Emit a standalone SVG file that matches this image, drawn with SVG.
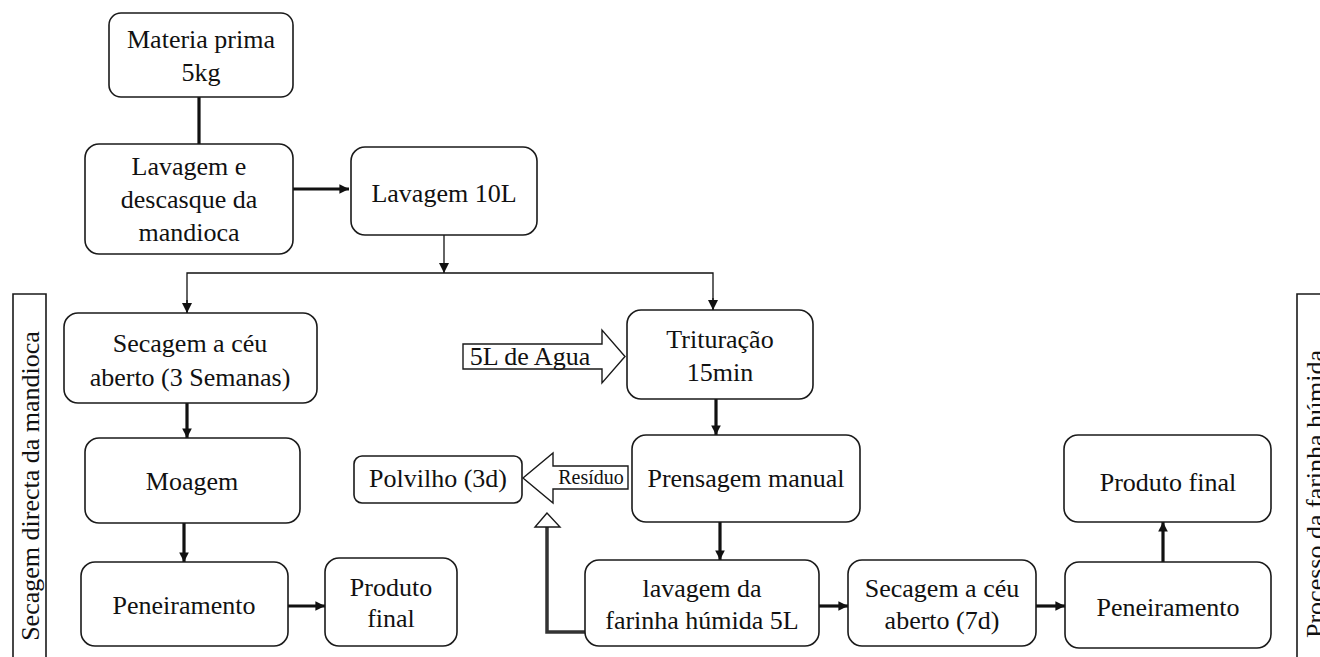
<svg xmlns="http://www.w3.org/2000/svg" width="1320" height="657" viewBox="0 0 1320 657" font-family="'Liberation Serif', 'DejaVu Serif', serif">
<style>
.box{fill:#fff;stroke:#1a1a1a;stroke-width:1.6}
text{font-family:'Liberation Serif','DejaVu Serif',serif}
.t{font-size:26px;fill:#111;text-anchor:middle}
.s{font-size:20px;fill:#111;text-anchor:middle}
.thin{fill:none;stroke:#111;stroke-width:1.3}
.thick{fill:none;stroke:#111;stroke-width:3.2}
.blk{fill:#fff;stroke:#1a1a1a;stroke-width:1.4}
</style>
<defs>
<marker id="ah" viewBox="0 0 10 10" refX="10" refY="5" markerWidth="10" markerHeight="10" markerUnits="userSpaceOnUse" orient="auto">
<path d="M0,0 L10,5 L0,10 z" fill="#111"/>
</marker>
<marker id="ahs" viewBox="0 0 10 10" refX="10" refY="5" markerWidth="3" markerHeight="3" orient="auto">
<path d="M0,0 L10,5 L0,10 z" fill="#111"/>
</marker>
</defs>
<rect width="1320" height="657" fill="#fff"/>

<g id="label-left">
<path d="M13,660 L13,294 L46,294 L46,660" class="box" fill="none"/>
<text class="t" transform="translate(39,486) rotate(-90)">Secagem directa da mandioca</text>
</g>
<g id="label-right">
<path d="M1297,660 L1297,294 L1325,294" class="box" fill="none"/>
<text class="t" style="text-anchor:start" transform="translate(1324,638) rotate(-90)">Processo da farinha húmida</text>
</g>

<g id="connectors">
<line class="thick" x1="199" y1="97" x2="199" y2="144"/>
<line class="thick" x1="293" y1="189" x2="349" y2="189" marker-end="url(#ahs)"/>
<line class="thin" x1="444" y1="235" x2="444" y2="273" marker-end="url(#ah)"/>
<polyline class="thin" points="187,313 187,273 713,273 713,310"/>
<line class="thin" x1="187" y1="300" x2="187" y2="313" marker-end="url(#ah)"/>
<line class="thin" x1="713" y1="298" x2="713" y2="310" marker-end="url(#ah)"/>
<line class="thick" x1="187" y1="403" x2="187" y2="438" marker-end="url(#ahs)"/>
<line class="thick" x1="184" y1="523" x2="184" y2="562" marker-end="url(#ahs)"/>
<line class="thick" x1="288" y1="606" x2="325" y2="606" marker-end="url(#ahs)"/>
<line class="thick" x1="716" y1="399" x2="716" y2="435" marker-end="url(#ahs)"/>
<line class="thick" x1="720" y1="522" x2="720" y2="560" marker-end="url(#ahs)"/>
<line class="thick" x1="819" y1="606" x2="848" y2="606" marker-end="url(#ahs)"/>
<line class="thick" x1="1036" y1="606" x2="1065" y2="606" marker-end="url(#ahs)"/>
<line class="thick" x1="1163" y1="562" x2="1163" y2="522" marker-end="url(#ahs)"/>
<polyline points="585,632 547,632 547,527" fill="none" stroke="#333" stroke-width="3.5"/>
<polygon points="547,513 535,527 560,527" class="blk"/>
</g>

<g id="agua">
<polygon class="blk" points="463,344 602,344 602,330 625,356.5 602,383 602,369 463,369"/>
<text class="t" x="530" y="365">5L de Agua</text>
</g>
<g id="residuo">
<polygon class="blk" points="628,466 553,466 553,453 523,478 553,503 553,489 628,489"/>
<text class="s" x="591" y="484">Resíduo</text>
</g>

<g id="n-materia">
<rect class="box" x="109" y="13" width="184" height="84" rx="12"/>
<text class="t" x="201" y="48">Materia prima</text>
<text class="t" x="201" y="81">5kg</text>
</g>
<g id="n-lavagem-desc">
<rect class="box" x="85" y="144" width="208" height="110" rx="14"/>
<text class="t" x="189" y="175">Lavagem e</text>
<text class="t" x="189" y="208">descasque da</text>
<text class="t" x="189" y="241">mandioca</text>
</g>
<g id="n-lavagem10">
<rect class="box" x="351" y="147" width="186" height="88" rx="14"/>
<text class="t" x="444" y="202">Lavagem 10L</text>
</g>
<g id="n-secagem3">
<rect class="box" x="64" y="313" width="253" height="90" rx="14"/>
<text class="t" x="190" y="352">Secagem a céu</text>
<text class="t" x="190" y="386">aberto (3 Semanas)</text>
</g>
<g id="n-moagem">
<rect class="box" x="85" y="438" width="215" height="85" rx="14"/>
<text class="t" x="192" y="490">Moagem</text>
</g>
<g id="n-pen-left">
<rect class="box" x="81" y="562" width="207" height="84" rx="14"/>
<text class="t" x="184" y="614">Peneiramento</text>
</g>
<g id="n-prod-left">
<rect class="box" x="325" y="558" width="132" height="88" rx="14"/>
<text class="t" x="391" y="596">Produto</text>
<text class="t" x="391" y="627">final</text>
</g>
<g id="n-polvilho">
<rect class="box" x="354" y="456" width="168" height="47" rx="8"/>
<text class="t" x="438" y="487">Polvilho (3d)</text>
</g>
<g id="n-trituracao">
<rect class="box" x="627" y="310" width="186" height="89" rx="14"/>
<text class="t" x="720" y="348">Trituração</text>
<text class="t" x="720" y="381">15min</text>
</g>
<g id="n-prensagem">
<rect class="box" x="632" y="435" width="228" height="87" rx="14"/>
<text class="t" x="746" y="487">Prensagem manual</text>
</g>
<g id="n-lavfarinha">
<rect class="box" x="585" y="560" width="234" height="86" rx="14"/>
<text class="t" x="702" y="597">lavagem da</text>
<text class="t" x="702" y="629">farinha húmida 5L</text>
</g>
<g id="n-secagem7">
<rect class="box" x="848" y="560" width="188" height="86" rx="14"/>
<text class="t" x="942" y="597">Secagem a céu</text>
<text class="t" x="942" y="629">aberto (7d)</text>
</g>
<g id="n-pen-right">
<rect class="box" x="1065" y="562" width="206" height="86" rx="14"/>
<text class="t" x="1168" y="616">Peneiramento</text>
</g>
<g id="n-prod-right">
<rect class="box" x="1064" y="435" width="207" height="87" rx="14"/>
<text class="t" x="1168" y="491">Produto final</text>
</g>
</svg>
